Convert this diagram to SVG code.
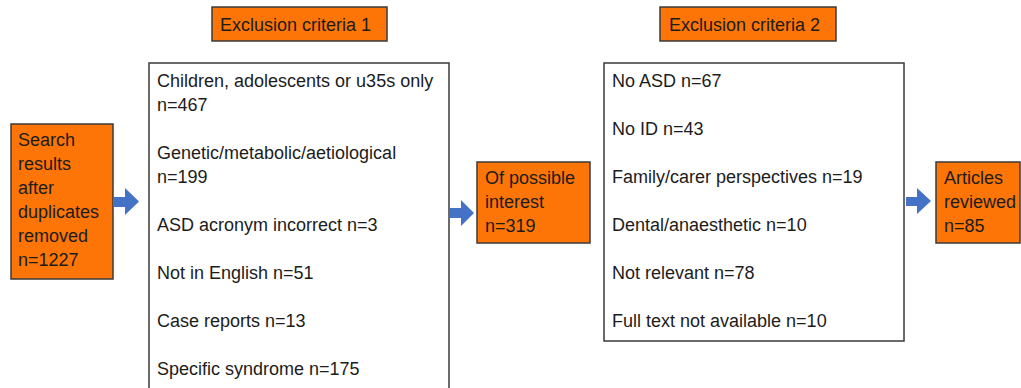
<svg xmlns="http://www.w3.org/2000/svg" width="1021" height="388" viewBox="0 0 1021 388">
<style>
  .org{fill:#FD7506;stroke:#3a3a3a;stroke-width:1.5}
  .wht{fill:#ffffff;stroke:#3a3a3a;stroke-width:1.5}
  text{font-family:"Liberation Sans",Arial,sans-serif;font-size:18px;fill:#1c1c1c}
  .arr{fill:#4472C4}
</style>
<rect width="1021" height="388" fill="#ffffff"/>
<g id="excl1-title">
  <rect class="org" x="212" y="7" width="175" height="34"/>
  <text x="220" y="31">Exclusion criteria 1</text>
</g>
<g id="excl2-title">
  <rect class="org" x="660" y="7" width="176" height="34"/>
  <text x="669" y="31">Exclusion criteria 2</text>
</g>
<g id="search">
  <rect class="org" x="11" y="124" width="102" height="155"/>
  <text x="18" y="146">Search</text>
  <text x="18" y="170">results</text>
  <text x="18" y="194">after</text>
  <text x="18" y="218">duplicates</text>
  <text x="18" y="242">removed</text>
  <text x="18" y="266">n=1227</text>
</g>
<g id="excl1-list">
  <rect class="wht" x="149" y="63" width="300" height="330"/>
  <text x="157" y="87">Children, adolescents or u35s only</text>
  <text x="157" y="111">n=467</text>
  <text x="157" y="159">Genetic/metabolic/aetiological</text>
  <text x="157" y="183">n=199</text>
  <text x="157" y="231">ASD acronym incorrect n=3</text>
  <text x="157" y="279">Not in English n=51</text>
  <text x="157" y="327">Case reports n=13</text>
  <text x="157" y="375">Specific syndrome n=175</text>
</g>
<g id="possible">
  <rect class="org" x="477" y="162" width="113" height="81"/>
  <text x="485" y="184">Of possible</text>
  <text x="485" y="208">interest</text>
  <text x="485" y="232">n=319</text>
</g>
<g id="excl2-list">
  <rect class="wht" x="604" y="63" width="300" height="278"/>
  <text x="612" y="87">No ASD n=67</text>
  <text x="612" y="135">No ID n=43</text>
  <text x="612" y="183">Family/carer perspectives n=19</text>
  <text x="612" y="231">Dental/anaesthetic n=10</text>
  <text x="612" y="279">Not relevant n=78</text>
  <text x="612" y="327">Full text not available n=10</text>
</g>
<g id="reviewed">
  <rect class="org" x="936" y="162" width="84" height="81"/>
  <text x="944" y="184">Articles</text>
  <text x="944" y="208">reviewed</text>
  <text x="944" y="232">n=85</text>
</g>
<g id="connectors">
  <polygon class="arr" points="113,197 125,197 125,188 139,201.5 125,215 125,207 113,207"/>
  <polygon class="arr" points="450,208 461,208 461,200 474,213 461,226 461,218 450,218"/>
  <polygon class="arr" points="906,197 917,197 917,188 931,201 917,214 917,206 906,206"/>
</g>
</svg>
